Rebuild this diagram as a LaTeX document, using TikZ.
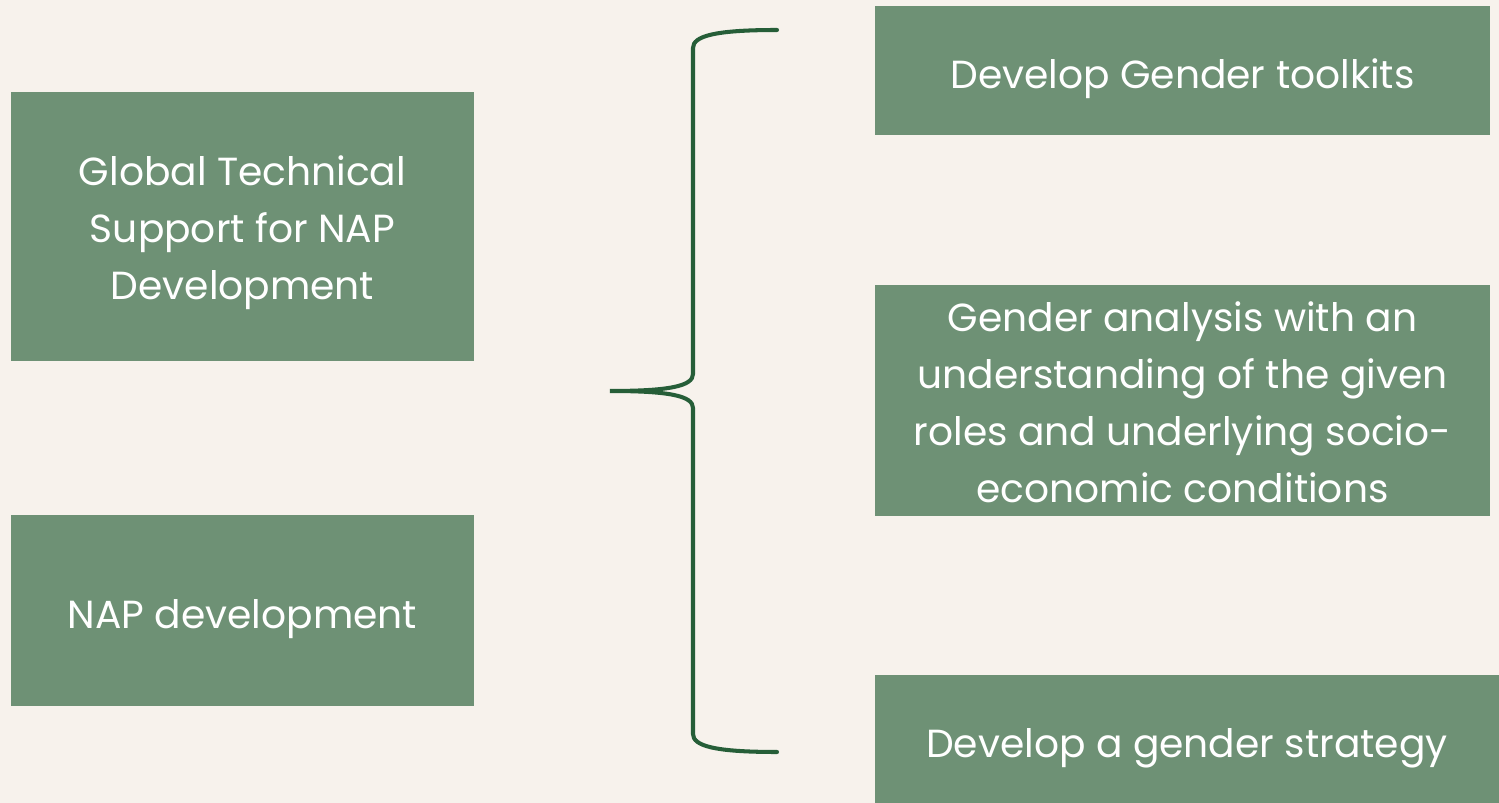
\documentclass[tikz,border=0pt]{standalone}
\usepackage{fontspec}
\setmainfont{Poppins}
\usepackage{xcolor}
\usepackage{tikz}
\usetikzlibrary{positioning, calc}
\definecolor{mybg}{RGB}{247,242,236}
\definecolor{mysage}{RGB}{110,145,117}
\definecolor{mypine}{RGB}{38,94,56}
\newcommand{\boxstrut}{\rule[-6pt]{0pt}{33pt}}
\newcommand{\firststrut}{\rule{0pt}{24.5pt}}
\tikzset{
  box/.style={rectangle, fill=mysage, text=white, align=center, inner sep=0pt,
    font=\fontsize{22.3}{32.4}\selectfont,
    execute at begin node=\boxstrut, execute at end node=\boxstrut},
  brace/.style={draw=mypine, line width=2.3pt, line cap=round}
}

\begin{document}
\begin{tikzpicture}[x=0.02cm, y=-0.02cm]
  % background and page size
  \fill[mybg] (0,0) rectangle (1499,803);
  \useasboundingbox (0,0) rectangle (1499,803);
  % left column
  \node[box, minimum width=9.26cm, minimum height=5.38cm] (support) at (242.5,226.5)
    {\firststrut Global Technical\\Support for NAP\\Development};
  \node[box, minimum width=9.26cm, minimum height=3.82cm] (napdev) at (242.5,610.5)
    {NAP development};
  % right column
  \node[box, minimum width=12.3cm, minimum height=2.58cm] (toolkits) at (1182.5,70.5)
    {Develop Gender toolkits};
  \node[box, minimum width=12.3cm, minimum height=4.62cm] (analysis) at (1182.5,400.5)
    {\firststrut Gender analysis with an\\understanding of the given\\roles and underlying socio-\\economic conditions};
  \node[box, minimum width=12.48cm, minimum height=2.56cm] (strategy) at (1187,739)
    {Develop a gender strategy};
  % brace
  \coordinate (bracetop) at (777,30);
  \coordinate (bracetip) at (610,391);
  \coordinate (bracebot) at (777,752);
  \draw[brace] (bracetop) .. controls (715,30) and (693,36) .. (693,48)
    -- (693,374) .. controls (693,386) and (670,391) .. (bracetip)
    .. controls (670,391) and (693,396) .. (693,408)
    -- (693,734) .. controls (693,746) and (715,752) .. (bracebot);
\end{tikzpicture}
\end{document}
